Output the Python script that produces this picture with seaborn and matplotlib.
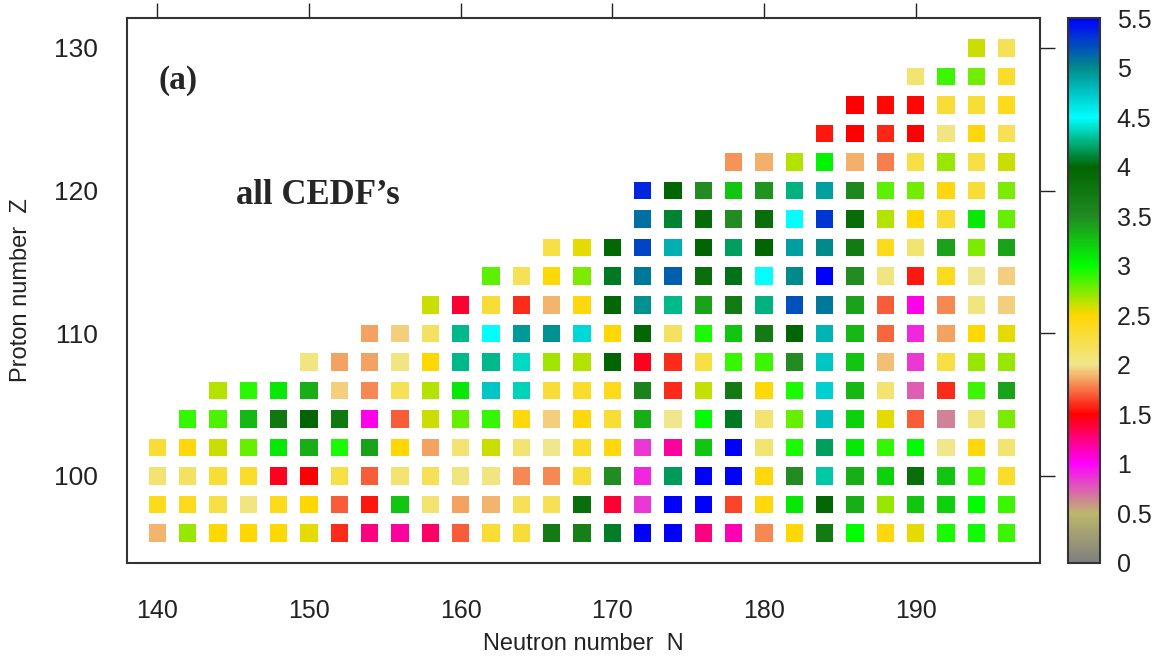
import numpy as np
import pandas as pd
import matplotlib
matplotlib.use("Agg")
import matplotlib.pyplot as plt
import seaborn as sns
from matplotlib.colors import LinearSegmentedColormap, Normalize
from matplotlib.cm import ScalarMappable

# ---------------- data ----------------
z_values = [96, 98, 100, 102, 104, 106, 108, 110, 112, 114, 116, 118, 120, 122, 124, 126, 128, 130]
n_start = [140, 140, 140, 140, 142, 144, 150, 154, 158, 162, 166, 172, 172, 178, 184, 186, 190, 194]

z096 = [1.9, 2.7, 2.5, 2.5, 2.5, 2.55, 1.6, 1.25, 1.2, 1.3,
        1.7, 2.3, 2.3, 3.7, 3.65, 4.08, 5.5, 5.5, 1.25, 1.15,
        1.8, 2.5, 3.7, 3.0, 2.45, 2.55, 2.95, 2.97, 2.88]
z098 = [2.4, 2.4, 2.25, 2.05, 2.4, 2.5, 1.7, 1.55, 3.25, 2.1,
        1.85, 1.9, 2.2, 2.2, 3.85, 1.4, 0.85, 5.5, 5.5, 1.65,
        2.45, 3.1, 3.95, 3.35, 2.7, 3.25, 3.2, 3.0, 2.88]
z100 = [2.1, 2.15, 2.3, 2.35, 1.45, 1.5, 2.25, 1.7, 2.1, 2.2,
        2.05, 2.05, 1.8, 1.8, 2.3, 3.5, 0.9, 4.17, 5.5, 5.5,
        2.45, 3.5, 4.32, 3.35, 3.2, 3.85, 3.25, 2.9, 2.35]
z102 = [2.3, 2.45, 2.6, 2.8, 3.1, 3.35, 2.95, 3.4, 2.5, 1.85,
        2.1, 2.6, 2.1, 2.0, 2.35, 2.45, 0.85, 1.2, 3.25, 5.5,
        2.1, 2.95, 4.18, 3.1, 2.9, 3.0, 2.0, 2.45, 2.1]
z104 = [2.9, 2.85, 3.3, 3.75, 4.0, 3.75, 1.05, 1.7, 2.6,
        2.8, 2.9, 2.45, 1.95, 2.45, 2.3, 3.35, 2.0, 3.0, 4.07,
        2.1, 2.8, 4.78, 3.2, 2.55, 1.7, 0.65, 2.05, 2.75]
z106 = [2.65, 2.92, 3.1, 3.35, 1.95, 1.8, 2.2, 2.65, 3.1, 4.74, 4.36,
        2.3, 2.35, 2.4, 3.6, 1.6, 2.62, 3.7, 2.48, 2.95, 4.7, 3.3,
        2.1, 0.75, 1.6, 2.88, 3.4]
z108 = [2.05, 1.85, 1.85, 2.05, 2.5, 4.27, 4.27, 4.38, 2.68, 2.65,
        4.0, 1.45, 1.6, 2.25, 2.9, 2.88, 3.5, 4.74, 3.25, 1.92,
        0.85, 2.25, 2.7, 2.7]
z110 = [1.85, 1.95, 2.15, 4.27, 4.5, 4.94, 4.97, 4.67,
        2.5, 3.95, 2.15, 2.95, 3.25, 3.7, 4.0, 4.82, 3.3, 1.72,
        0.9, 1.85, 2.5, 2.55]
z112 = [2.6, 1.4, 2.3, 1.6, 1.9, 2.45, 3.95, 4.97, 4.27, 3.4,
        3.7, 4.25, 5.2, 5.07, 3.4, 1.7, 1.05, 1.8, 2.05, 1.95]
z114 = [2.82, 2.2, 2.48, 2.75, 4.07, 5.07, 5.15, 3.85, 4.04,
        4.5, 5.0, 5.5, 3.5, 2.05, 1.55, 2.4, 2.0, 1.95]
z116 = [2.25, 2.55, 3.95, 5.25, 4.84, 4.0, 4.18, 4.0,
        4.9, 5.0, 3.7, 2.4, 2.1, 3.4, 2.75, 3.4]
z118 = [5.1, 4.1, 3.9, 3.5, 3.85, 4.5, 5.3, 3.88, 2.65, 2.5, 2.3, 3.1, 2.8]
z120 = [5.35, 4.0, 3.5, 3.25, 3.45, 4.25, 4.9, 3.55, 2.82, 2.78, 2.45, 2.3, 2.75]
z122 = [1.82, 1.88, 2.65, 3.05, 1.88, 1.78, 2.25, 2.7, 2.25, 2.6]
z124 = [1.55, 1.5, 1.58, 1.5, 2.05, 2.45, 2.2]
z126 = [1.5, 1.52, 1.52, 2.3, 2.3, 2.4]
z128 = [2.1, 2.88, 2.78, 2.35]
z130 = [2.6, 2.2]

row_values = [z096, z098, z100, z102, z104, z106, z108, z110, z112,
              z114, z116, z118, z120, z122, z124, z126, z128, z130]

x_ticks = [140, 150, 160, 170, 180, 190]
y_ticks = [100, 110, 120, 130]
cbar_ticks = [0, 0.5, 1, 1.5, 2, 2.5, 3, 3.5, 4, 4.5, 5, 5.5]

# build long table
rows = []
for z, n0, vals in zip(z_values, n_start, row_values):
    for i, v in enumerate(vals):
        rows.append({"N": n0 + 2 * i, "Z": z, "val": v})
df = pd.DataFrame(rows)

# ---------------- style ----------------
sns.set_theme(style="white")
plt.rcParams["font.family"] = ["Liberation Sans", "DejaVu Sans"]

ramp = ["#7f7f7f", "#bdb76b", "#ff00ff", "#ff0000", "#f0e68c", "#ffd700",
        "#00ff00", "#228b22", "#006400", "#00ffff", "#008b8b", "#0000ff"]
cmap = LinearSegmentedColormap.from_list("cedf", ramp, N=512)
norm = Normalize(vmin=0, vmax=5.5)

W, H = 1176, 661
fig = plt.figure(figsize=(W / 100, H / 100), dpi=100)
L, R, T, B = 127, 1040, 18, 563
ax = fig.add_axes([L / W, (H - B) / H, (R - L) / W, (B - T) / H])
cax = fig.add_axes([1068 / W, (H - B) / H, 32 / W, (B - T) / H])

sns.scatterplot(data=df, x="N", y="Z", hue="val", palette=cmap, hue_norm=(0, 5.5),
                marker="s", s=159, linewidth=0, legend=False, ax=ax)

ax.set_xlim(138.0, 198.2)
ax.set_ylim(93.9, 132.1)
ax.set_xticks(x_ticks)
ax.set_yticks(y_ticks)
ax.tick_params(direction="out", length=11, width=1.0, colors="#222222",
               top=True, right=True, labeltop=False, labelright=False)
ax.tick_params(axis="x", labelsize=18, pad=15)
ax.tick_params(axis="y", labelsize=19, pad=10)
for sp in ax.spines.values():
    sp.set_visible(True)
    sp.set_color("#333333")
    sp.set_linewidth(1.5)
ax.set_xlabel("Neutron number  N", fontsize=17, labelpad=7, color="#222222")
ax.set_ylabel("Proton number  Z", fontsize=17, labelpad=16, color="#222222")

ax.text(0.056, 0.885, "(a)", transform=ax.transAxes, ha="center", va="center",
        fontsize=24, fontweight="bold", family=["Liberation Serif", "DejaVu Serif"])
ax.text(0.209, 0.675, "all CEDF\u2019s", transform=ax.transAxes, ha="center", va="center",
        fontsize=25, fontweight="bold", family=["Liberation Serif", "DejaVu Serif"])

cb = fig.colorbar(ScalarMappable(norm=norm, cmap=cmap), cax=cax, ticks=cbar_ticks)
cb.ax.set_yticklabels([f"{t:g}" for t in cbar_ticks])
cb.outline.set_linewidth(1.5)
cb.outline.set_edgecolor("#333333")
cax.tick_params(direction="in", length=7, width=1.2, left=True, right=True,
                labelsize=18, pad=12, colors="#222222")

fig.savefig("out.png", dpi=100)
